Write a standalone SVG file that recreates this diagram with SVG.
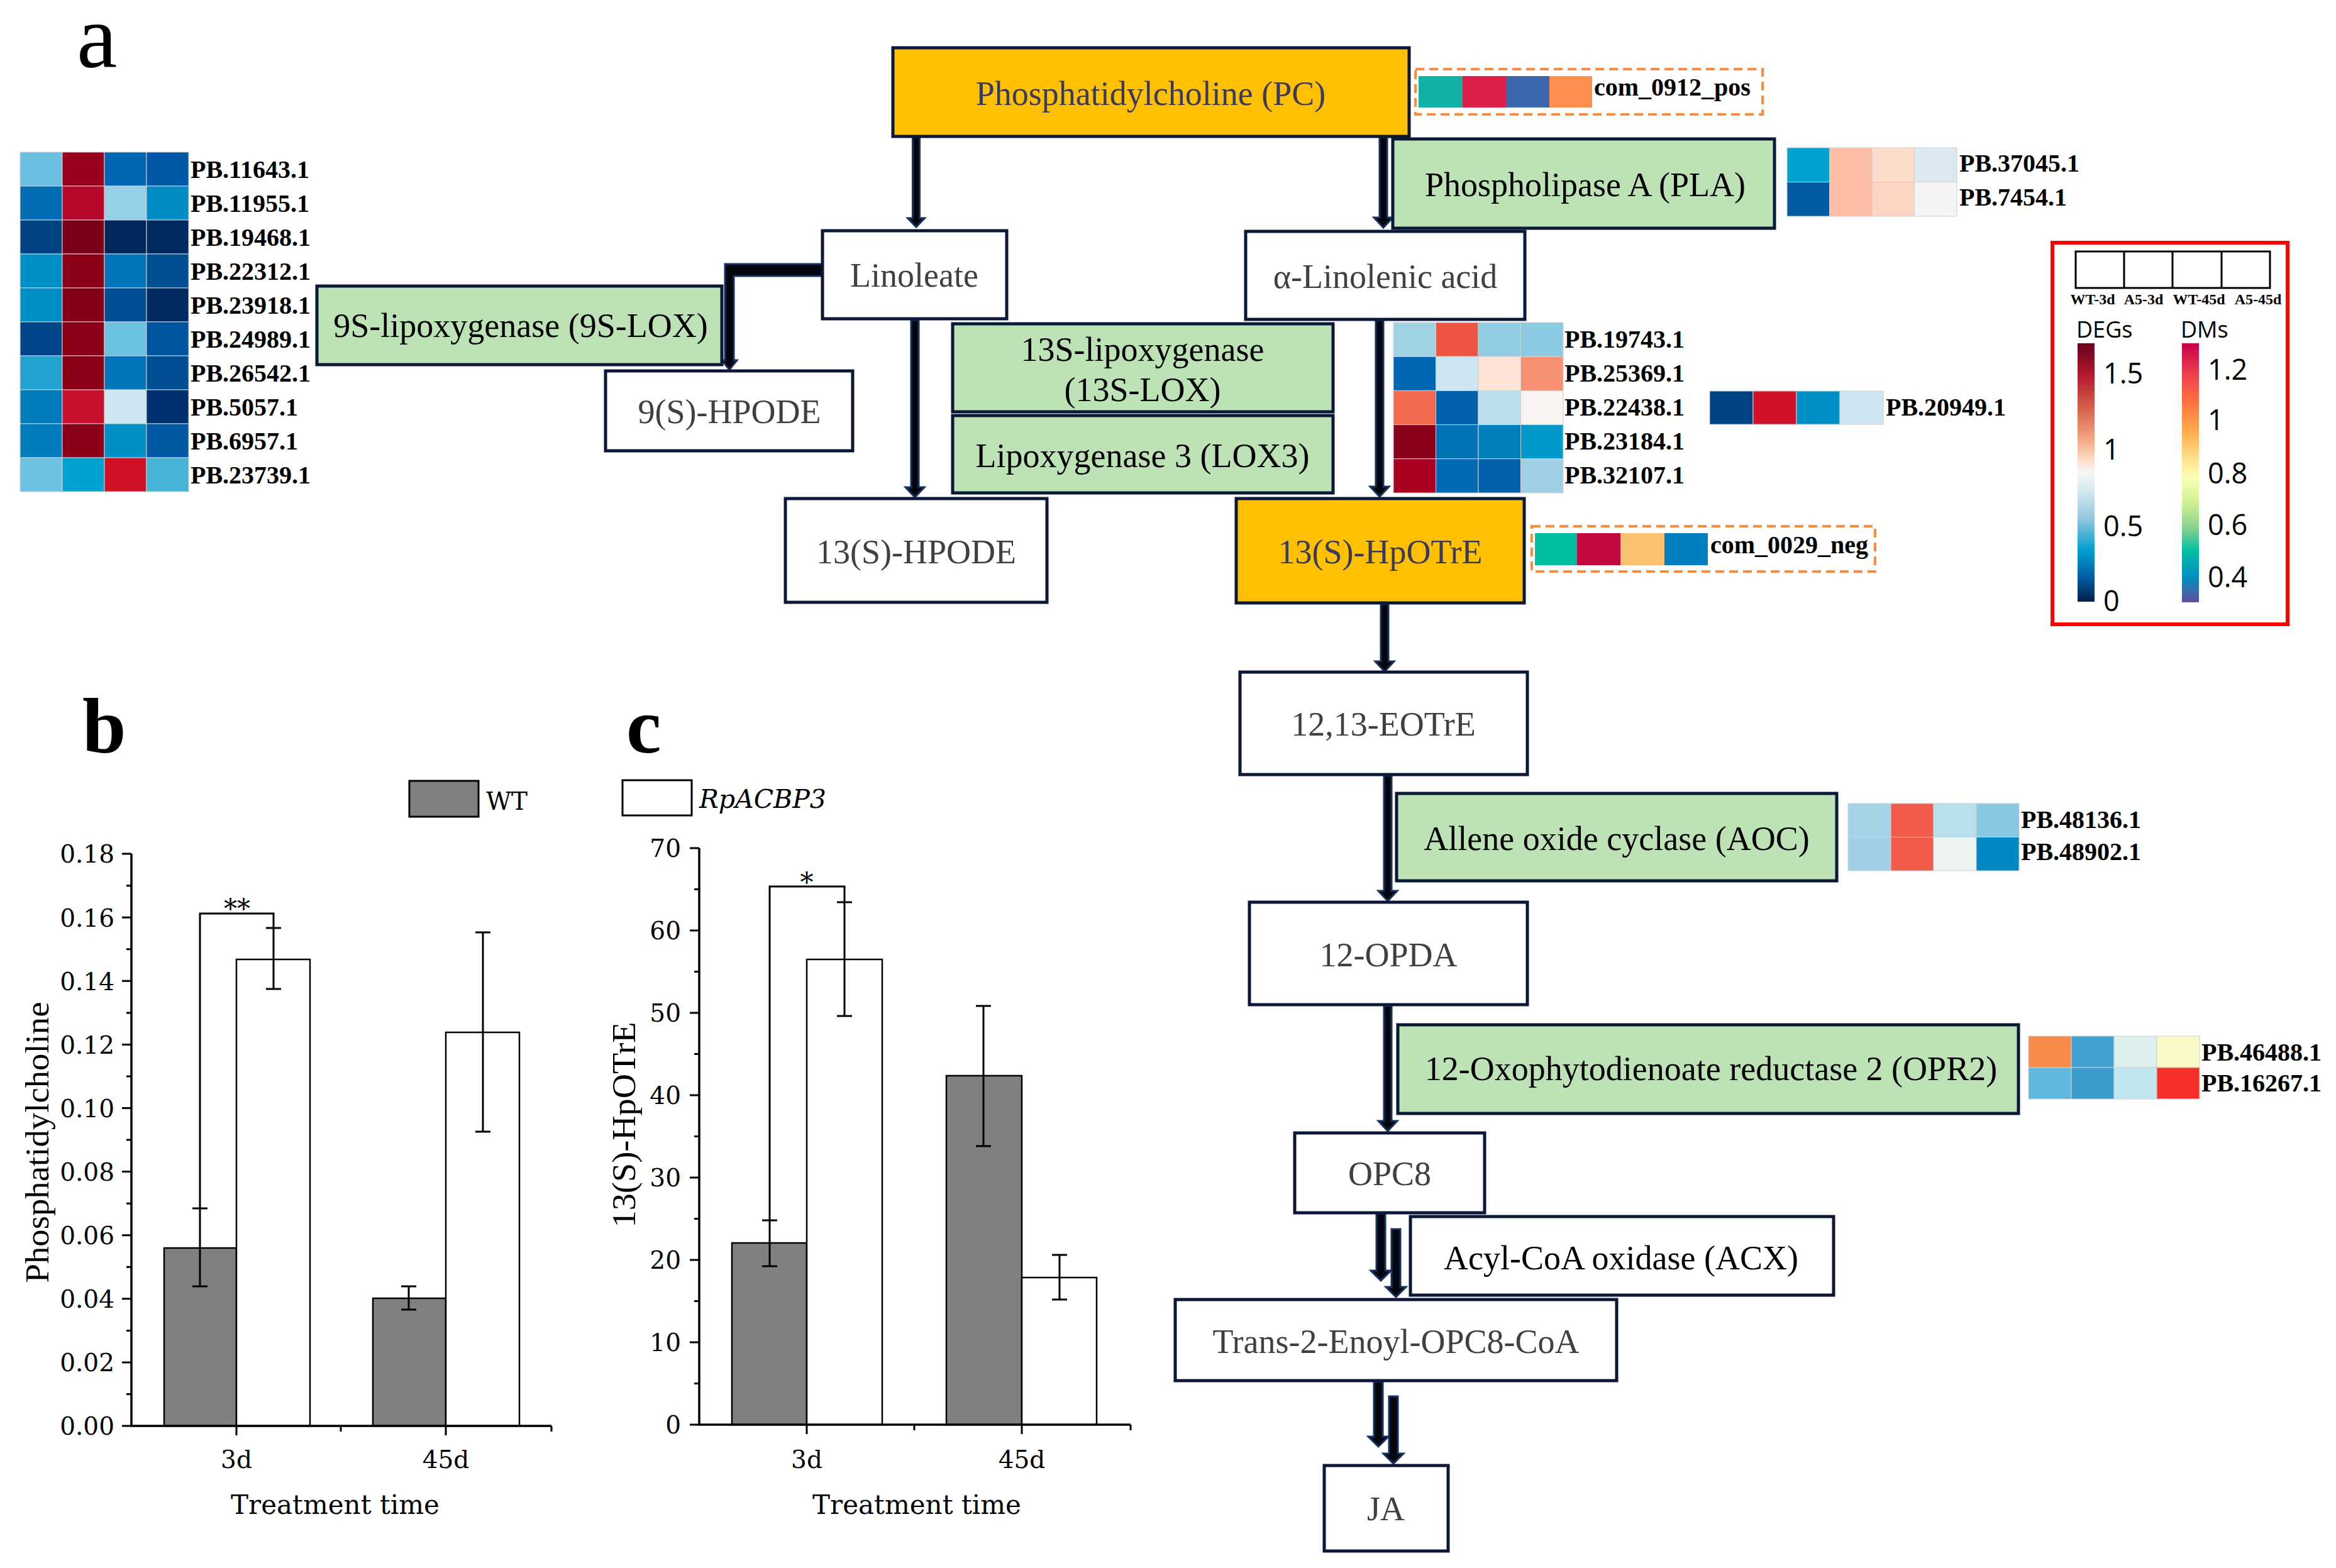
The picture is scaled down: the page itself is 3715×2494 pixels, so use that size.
<svg xmlns="http://www.w3.org/2000/svg" width="3715" height="2494" viewBox="0 0 3715 2494">
<style>
.nd{stroke:#0b1838;stroke-width:5}
.w{fill:#ffffff}
.y{fill:#ffc000}
.g{fill:#bde2b6}
.t{font-family:"Liberation Serif","Times New Roman",serif;font-size:54px;text-anchor:middle}
.tg{fill:#404040}
.ty{fill:#3a3a5c}
.tk{fill:#000}
.lb{font-family:"Liberation Serif","Times New Roman",serif;font-size:40px;font-weight:bold;fill:#000}
.hc rect{stroke:#d0d0d0;stroke-width:1}
.ba{fill:#03060c;stroke:#17305e;stroke-width:3;stroke-linejoin:miter}
.dash{fill:none;stroke:#ff8c3a;stroke-width:4;stroke-dasharray:14 8}
.ax{stroke:#000;stroke-width:3.5;fill:none}
.eb{stroke:#000;stroke-width:3;fill:none}
.bg{fill:#808080;stroke:#000;stroke-width:2.5}
.bw{fill:#ffffff;stroke:#000;stroke-width:2.5}
.cf{font-family:"DejaVu Serif",serif;font-size:39px;fill:#000}
.ct{font-family:"DejaVu Serif",serif;font-size:42px;fill:#000;text-anchor:middle}
.ls{font-family:"Open Sans","DejaVu Sans",sans-serif;fill:#000}
</style>
<defs>
<linearGradient id="gDEG" x1="0" y1="0" x2="0" y2="1">
<stop offset="0" stop-color="#67001f"/>
<stop offset="0.12" stop-color="#b2182b"/>
<stop offset="0.25" stop-color="#d6604d"/>
<stop offset="0.37" stop-color="#f4a582"/>
<stop offset="0.45" stop-color="#fddbc7"/>
<stop offset="0.5" stop-color="#f7f7f7"/>
<stop offset="0.58" stop-color="#d1e5f0"/>
<stop offset="0.68" stop-color="#92c5de"/>
<stop offset="0.8" stop-color="#00a0d0"/>
<stop offset="0.9" stop-color="#0060a8"/>
<stop offset="1" stop-color="#00204a"/>
</linearGradient>
<linearGradient id="gDM" x1="0" y1="0" x2="0" y2="1">
<stop offset="0" stop-color="#c80048"/>
<stop offset="0.12" stop-color="#f04050"/>
<stop offset="0.22" stop-color="#ff7040"/>
<stop offset="0.35" stop-color="#ffb050"/>
<stop offset="0.48" stop-color="#fff0a0"/>
<stop offset="0.52" stop-color="#f8ffb8"/>
<stop offset="0.62" stop-color="#d0f090"/>
<stop offset="0.72" stop-color="#80d090"/>
<stop offset="0.8" stop-color="#00c0a0"/>
<stop offset="0.9" stop-color="#0090c0"/>
<stop offset="1" stop-color="#6050a0"/>
</linearGradient>
</defs>
<rect width="3715" height="2494" fill="#ffffff"/>

<!-- panel letters -->
<text x="122" y="107" font-family="Liberation Serif, serif" font-size="145">a</text>
<text x="131" y="1197" font-family="Liberation Serif, serif" font-size="125" font-weight="bold">b</text>
<text x="996" y="1197" font-family="Liberation Serif, serif" font-size="125" font-weight="bold">c</text>

<!-- connectors (block arrows) -->
<g id="connectors">
<path class="ba" d="M1451.5,218 V347 H1443.5 L1457,361 L1470.5,347 H1462.5 V218 Z"/>
<path class="ba" d="M2194,218 V346 H2185 L2200,362 L2215,346 H2206 V218 Z"/>
<path class="ba" d="M1153,420 H1308 V439 H1167 V573 H1172 L1160,588 L1148,573 H1153 Z"/>
<path class="ba" d="M1449,509 V775 H1440 L1455,791 L1470,775 H1461 V509 Z"/>
<path class="ba" d="M2188,510 V774 H2179 L2194,790 L2209,774 H2200 V510 Z"/>
<path class="ba" d="M2196,961 V1052 H2187 L2202,1068 L2217,1052 H2208 V961 Z"/>
<path class="ba" d="M2201,1234 V1417 H2192 L2207,1433 L2222,1417 H2213 V1234 Z"/>
<path class="ba" d="M2201,1600 V1783 H2192 L2207,1799 L2222,1783 H2213 V1600 Z"/>
<path class="ba" d="M2189,1930 V2021 H2180 L2196,2037 L2212,2021 H2203 V1930 Z"/>
<path class="ba" d="M2213,1955 V2047 H2204 L2220,2063 L2236,2047 H2227 V1955 Z"/>
<path class="ba" d="M2185,2198 V2285 H2176 L2192,2301 L2208,2285 H2199 V2198 Z"/>
<path class="ba" d="M2209,2221 V2312 H2200 L2216,2328 L2232,2312 H2223 V2221 Z"/>
</g>

<!-- nodes -->
<g id="n-pc"><rect class="nd y" x="1420" y="76" width="821" height="141"/><text class="t ty" x="1830" y="167">Phosphatidylcholine (PC)</text></g>
<g id="n-pla"><rect class="nd g" x="2215" y="221" width="607" height="142"/><text class="t tk" x="2521" y="312">Phospholipase A (PLA)</text></g>
<g id="n-linoleate"><rect class="nd w" x="1308" y="367" width="293" height="140"/><text class="t tg" x="1454" y="456">Linoleate</text></g>
<g id="n-alin"><rect class="nd w" x="1981" y="368" width="444" height="140"/><text class="t tg" x="2203" y="458">α-Linolenic acid</text></g>
<g id="n-9slox"><rect class="nd g" x="504" y="455" width="644" height="125"/><text class="t tk" x="828" y="536">9S-lipoxygenase (9S-LOX)</text></g>
<g id="n-9hpode"><rect class="nd w" x="963" y="590" width="393" height="127"/><text class="t tg" x="1160" y="673">9(S)-HPODE</text></g>
<g id="n-13slox"><rect class="nd g" x="1515" y="515" width="605" height="140"/><text class="t tk" x="1817" y="574">13S-lipoxygenase</text><text class="t tk" x="1817" y="638">(13S-LOX)</text></g>
<g id="n-lox3"><rect class="nd g" x="1515" y="661" width="605" height="123"/><text class="t tk" x="1817" y="743">Lipoxygenase 3 (LOX3)</text></g>
<g id="n-13hpode"><rect class="nd w" x="1249" y="793" width="416" height="165"/><text class="t tg" x="1457" y="896">13(S)-HPODE</text></g>
<g id="n-hpotre"><rect class="nd y" x="1966" y="793" width="458" height="166"/><text class="t ty" x="2195" y="896">13(S)-HpOTrE</text></g>
<g id="n-eotre"><rect class="nd w" x="1972" y="1069" width="457" height="163"/><text class="t tg" x="2200" y="1170">12,13-EOTrE</text></g>
<g id="n-aoc"><rect class="nd g" x="2221" y="1262" width="700" height="139"/><text class="t tk" x="2571" y="1352">Allene oxide cyclase (AOC)</text></g>
<g id="n-opda"><rect class="nd w" x="1987" y="1435" width="442" height="163"/><text class="t tg" x="2208" y="1537">12-OPDA</text></g>
<g id="n-opr2"><rect class="nd g" x="2223" y="1630" width="987" height="141"/><text class="t tk" x="2721" y="1718">12-Oxophytodienoate reductase 2 (OPR2)</text></g>
<g id="n-opc8"><rect class="nd w" x="2059" y="1802" width="302" height="127"/><text class="t tg" x="2210" y="1885">OPC8</text></g>
<g id="n-acx"><rect class="nd w" x="2243" y="1935" width="673" height="125"/><text class="t tk" x="2578" y="2019">Acyl-CoA oxidase (ACX)</text></g>
<g id="n-trans"><rect class="nd w" x="1869" y="2067" width="702" height="129"/><text class="t tg" x="2220" y="2152">Trans-2-Enoyl-OPC8-CoA</text></g>
<g id="n-ja"><rect class="nd w" x="2106" y="2331" width="197" height="136"/><text class="t tg" x="2204" y="2418">JA</text></g>

<!-- heatmap: left (9S-LOX) -->
<g id="hm-9slox" class="hc">
<rect x="32" y="242" width="67" height="54" fill="#6bbfe0"/><rect x="99" y="242" width="67" height="54" fill="#990020"/><rect x="166" y="242" width="67" height="54" fill="#0067b5"/><rect x="233" y="242" width="67" height="54" fill="#0059a6"/>
<rect x="32" y="296" width="67" height="54" fill="#006db5"/><rect x="99" y="296" width="67" height="54" fill="#b5082a"/><rect x="166" y="296" width="67" height="54" fill="#95d0e6"/><rect x="233" y="296" width="67" height="54" fill="#008dc6"/>
<rect x="32" y="350" width="67" height="54" fill="#004484"/><rect x="99" y="350" width="67" height="54" fill="#7a0018"/><rect x="166" y="350" width="67" height="54" fill="#002a5f"/><rect x="233" y="350" width="67" height="54" fill="#002a60"/>
<rect x="32" y="404" width="67" height="54" fill="#0090c8"/><rect x="99" y="404" width="67" height="54" fill="#8a0019"/><rect x="166" y="404" width="67" height="54" fill="#0075b9"/><rect x="233" y="404" width="67" height="54" fill="#004d92"/>
<rect x="32" y="458" width="67" height="54" fill="#0090c8"/><rect x="99" y="458" width="67" height="54" fill="#820018"/><rect x="166" y="458" width="67" height="54" fill="#004f94"/><rect x="233" y="458" width="67" height="54" fill="#002a60"/>
<rect x="32" y="512" width="67" height="54" fill="#004489"/><rect x="99" y="512" width="67" height="54" fill="#8a0019"/><rect x="166" y="512" width="67" height="54" fill="#6bc1e0"/><rect x="233" y="512" width="67" height="54" fill="#00559f"/>
<rect x="32" y="566" width="67" height="54" fill="#20a3d0"/><rect x="99" y="566" width="67" height="54" fill="#8a0019"/><rect x="166" y="566" width="67" height="54" fill="#0075b9"/><rect x="233" y="566" width="67" height="54" fill="#004f94"/>
<rect x="32" y="620" width="67" height="54" fill="#007cbc"/><rect x="99" y="620" width="67" height="54" fill="#c8102a"/><rect x="166" y="620" width="67" height="54" fill="#cde6f1"/><rect x="233" y="620" width="67" height="54" fill="#003070"/>
<rect x="32" y="674" width="67" height="54" fill="#007dbd"/><rect x="99" y="674" width="67" height="54" fill="#8a0019"/><rect x="166" y="674" width="67" height="54" fill="#0090c8"/><rect x="233" y="674" width="67" height="54" fill="#0059a2"/>
<rect x="32" y="728" width="67" height="54" fill="#6dc1e0"/><rect x="99" y="728" width="67" height="54" fill="#00a3cf"/><rect x="166" y="728" width="67" height="54" fill="#cf1128"/><rect x="233" y="728" width="67" height="54" fill="#45b4d6"/>
</g>
<g class="lb">
<text x="303" y="283">PB.11643.1</text>
<text x="303" y="337">PB.11955.1</text>
<text x="303" y="391">PB.19468.1</text>
<text x="303" y="445">PB.22312.1</text>
<text x="303" y="499">PB.23918.1</text>
<text x="303" y="553">PB.24989.1</text>
<text x="303" y="607">PB.26542.1</text>
<text x="303" y="661">PB.5057.1</text>
<text x="303" y="715">PB.6957.1</text>
<text x="303" y="769">PB.23739.1</text>
</g>

<!-- heatmap: PC metabolite -->
<g id="hm-pc">
<rect class="dash" x="2251" y="110" width="552" height="72"/>
<rect x="2256" y="121" width="70" height="50" fill="#13b0a5"/><rect x="2326" y="121" width="69" height="50" fill="#dc1e48"/><rect x="2395" y="121" width="69" height="50" fill="#3d68b0"/><rect x="2464" y="121" width="68" height="50" fill="#ff8f4e"/>
<text class="lb" x="2535" y="152">com_0912_pos</text>
</g>

<!-- heatmap: PLA -->
<g id="hm-pla" class="hc">
<rect x="2842" y="235" width="67.5" height="54.5" fill="#00a2d0"/><rect x="2909.5" y="235" width="67.5" height="54.5" fill="#fcbfa6"/><rect x="2977" y="235" width="67.5" height="54.5" fill="#fddccb"/><rect x="3044.5" y="235" width="67.5" height="54.5" fill="#dde9f0"/>
<rect x="2842" y="289.5" width="67.5" height="54.5" fill="#005ba3"/><rect x="2909.5" y="289.5" width="67.5" height="54.5" fill="#fcbfa6"/><rect x="2977" y="289.5" width="67.5" height="54.5" fill="#fdd5c2"/><rect x="3044.5" y="289.5" width="67.5" height="54.5" fill="#f4f4f4"/>
</g>
<text class="lb" x="3116" y="273">PB.37045.1</text>
<text class="lb" x="3116" y="327">PB.7454.1</text>

<!-- heatmap: 13S-LOX / LOX3 -->
<g id="hm-lox" class="hc">
<rect x="2216" y="513" width="67.5" height="54.2" fill="#a0d2e6"/><rect x="2283.5" y="513" width="67.5" height="54.2" fill="#ee5442"/><rect x="2351" y="513" width="67.5" height="54.2" fill="#92cde3"/><rect x="2418.5" y="513" width="67.5" height="54.2" fill="#8ccae3"/>
<rect x="2216" y="567.2" width="67.5" height="54.2" fill="#0067b3"/><rect x="2283.5" y="567.2" width="67.5" height="54.2" fill="#cde6f1"/><rect x="2351" y="567.2" width="67.5" height="54.2" fill="#fde4d7"/><rect x="2418.5" y="567.2" width="67.5" height="54.2" fill="#f78f72"/>
<rect x="2216" y="621.4" width="67.5" height="54.2" fill="#f26a50"/><rect x="2283.5" y="621.4" width="67.5" height="54.2" fill="#0062ae"/><rect x="2351" y="621.4" width="67.5" height="54.2" fill="#bbdfec"/><rect x="2418.5" y="621.4" width="67.5" height="54.2" fill="#f7f4f2"/>
<rect x="2216" y="675.6" width="67.5" height="54.2" fill="#8a0019"/><rect x="2283.5" y="675.6" width="67.5" height="54.2" fill="#0073b7"/><rect x="2351" y="675.6" width="67.5" height="54.2" fill="#007fbc"/><rect x="2418.5" y="675.6" width="67.5" height="54.2" fill="#0099cc"/>
<rect x="2216" y="729.8" width="67.5" height="54.2" fill="#a8001e"/><rect x="2283.5" y="729.8" width="67.5" height="54.2" fill="#006ab4"/><rect x="2351" y="729.8" width="67.5" height="54.2" fill="#0060ac"/><rect x="2418.5" y="729.8" width="67.5" height="54.2" fill="#a0d0e6"/>
</g>
<g class="lb">
<text x="2488" y="553">PB.19743.1</text>
<text x="2488" y="607">PB.25369.1</text>
<text x="2488" y="661">PB.22438.1</text>
<text x="2488" y="715">PB.23184.1</text>
<text x="2488" y="769">PB.32107.1</text>
</g>
<g id="hm-20949" class="hc">
<rect x="2719" y="622" width="69" height="53" fill="#004484"/><rect x="2788" y="622" width="69" height="53" fill="#cf1128"/><rect x="2857" y="622" width="69" height="53" fill="#0090c8"/><rect x="2926" y="622" width="69" height="53" fill="#cde6f1"/>
</g>
<text class="lb" x="2999" y="661">PB.20949.1</text>

<!-- heatmap: HpOTrE metabolite -->
<g id="hm-hpotre">
<rect class="dash" x="2436" y="837" width="546" height="72"/>
<rect x="2441" y="848" width="67" height="51" fill="#00bfa0"/><rect x="2508" y="848" width="69" height="51" fill="#c40840"/><rect x="2577" y="848" width="70" height="51" fill="#fdc070"/><rect x="2647" y="848" width="69" height="51" fill="#0080c0"/>
<text class="lb" x="2720" y="880">com_0029_neg</text>
</g>

<!-- heatmap: AOC -->
<g id="hm-aoc" class="hc">
<rect x="2939" y="1278" width="68" height="53.5" fill="#a3d4e7"/><rect x="3007" y="1278" width="68" height="53.5" fill="#f25a48"/><rect x="3075" y="1278" width="68" height="53.5" fill="#b8dfec"/><rect x="3143" y="1278" width="68" height="53.5" fill="#88c8e2"/>
<rect x="2939" y="1331.5" width="68" height="53.5" fill="#a0d0e6"/><rect x="3007" y="1331.5" width="68" height="53.5" fill="#f25a48"/><rect x="3075" y="1331.5" width="68" height="53.5" fill="#eef3f4"/><rect x="3143" y="1331.5" width="68" height="53.5" fill="#0088c4"/>
</g>
<text class="lb" x="3214" y="1317">PB.48136.1</text>
<text class="lb" x="3214" y="1368">PB.48902.1</text>

<!-- heatmap: OPR2 -->
<g id="hm-opr2" class="hc">
<rect x="3226" y="1648" width="68" height="50" fill="#f98b4a"/><rect x="3294" y="1648" width="68" height="50" fill="#40a0d0"/><rect x="3362" y="1648" width="68" height="50" fill="#ddf0ee"/><rect x="3430" y="1648" width="68" height="50" fill="#fafac8"/>
<rect x="3226" y="1698" width="68" height="50" fill="#60b8dc"/><rect x="3294" y="1698" width="68" height="50" fill="#3a9ccc"/><rect x="3362" y="1698" width="68" height="50" fill="#c0e6f0"/><rect x="3430" y="1698" width="68" height="50" fill="#f8302a"/>
</g>
<text class="lb" x="3501" y="1687">PB.46488.1</text>
<text class="lb" x="3501" y="1736">PB.16267.1</text>

<!-- legend -->
<g id="legend">
<rect x="3264" y="386" width="374" height="607" fill="none" stroke="#ff0000" stroke-width="6"/>
<rect x="3301" y="400" width="309" height="58" fill="#fff" stroke="#000" stroke-width="3"/>
<line x1="3378" y1="400" x2="3378" y2="458" stroke="#000" stroke-width="3"/>
<line x1="3455" y1="400" x2="3455" y2="458" stroke="#000" stroke-width="3"/>
<line x1="3533" y1="400" x2="3533" y2="458" stroke="#000" stroke-width="3"/>
<g font-family="Liberation Serif, serif" font-size="24" font-weight="bold" text-anchor="middle">
<text x="3328" y="484">WT-3d</text><text x="3409" y="484">A5-3d</text><text x="3497" y="484">WT-45d</text><text x="3591" y="484">A5-45d</text>
</g>
<text class="ls" x="3302" y="537" font-size="36">DEGs</text>
<text class="ls" x="3468" y="537" font-size="36">DMs</text>
<rect x="3304" y="546" width="27" height="411" fill="url(#gDEG)"/>
<rect x="3470" y="546" width="27" height="412" fill="url(#gDM)"/>
<g class="ls" font-size="45">
<text x="3345" y="610">1.5</text><text x="3345" y="731">1</text><text x="3345" y="853">0.5</text><text x="3345" y="972">0</text>
<text x="3511" y="604">1.2</text><text x="3511" y="684">1</text><text x="3511" y="769">0.8</text><text x="3511" y="851">0.6</text><text x="3511" y="934">0.4</text>
</g>
</g>

<!-- chart b -->
<g id="chart-b">
<rect x="651" y="1242" width="110" height="57" fill="#808080" stroke="#000" stroke-width="3"/>
<text class="cf" x="773" y="1288" font-size="44">WT</text>
<rect class="bg" x="261" y="1985" width="115" height="283"/>
<rect class="bw" x="376" y="1526" width="117" height="742"/>
<rect class="bg" x="593" y="2065" width="116" height="203"/>
<rect class="bw" x="709" y="1642" width="117" height="626"/>
<path class="eb" d="M318,1922 V2046 M306,1922 H330 M306,2046 H330"/>
<path class="eb" d="M435,1476 V1573 M423,1476 H447 M423,1573 H447"/>
<path class="eb" d="M650,2046 V2083 M638,2046 H662 M638,2083 H662"/>
<path class="eb" d="M768,1483 V1800 M756,1483 H780 M756,1800 H780"/>
<path class="eb" d="M318,1922 V1453 H435 V1476"/>
<text class="ct" x="377" y="1460">**</text>
<path class="ax" d="M209,1358 V2268 H877"/>
<path class="eb" d="M194,2268H209 M194,2166.9H209 M194,2065.8H209 M194,1964.7H209 M194,1863.6H209 M194,1762.5H209 M194,1661.4H209 M194,1560.3H209 M194,1459.2H209 M194,1358.1H209 M201,2217.5H209 M201,2116.4H209 M201,2015.3H209 M201,1914.2H209 M201,1813H209 M201,1712H209 M201,1610.9H209 M201,1509.8H209 M201,1408.7H209 M376,2268V2283 M709,2268V2283 M542,2268V2277 M877,2268V2277"/>
<g class="cf" text-anchor="end">
<text x="182" y="2282">0.00</text><text x="182" y="2181">0.02</text><text x="182" y="2080">0.04</text><text x="182" y="1979">0.06</text><text x="182" y="1878">0.08</text><text x="182" y="1777">0.10</text><text x="182" y="1676">0.12</text><text x="182" y="1575">0.14</text><text x="182" y="1474">0.16</text><text x="182" y="1372">0.18</text>
</g>
<g class="cf" text-anchor="middle"><text x="376" y="2335">3d</text><text x="709" y="2335">45d</text></g>
<text class="ct" x="533" y="2408">Treatment time</text>
<text transform="translate(77,1817) rotate(-90)" font-family="Liberation Serif, serif" font-size="52" text-anchor="middle" textLength="447" lengthAdjust="spacingAndGlyphs">Phosphatidylcholine</text>
</g>

<!-- chart c -->
<g id="chart-c">
<rect x="990" y="1241" width="110" height="56" fill="#fff" stroke="#000" stroke-width="3"/>
<text x="1112" y="1285" font-family="DejaVu Serif, serif" font-size="41" font-style="italic">RpACBP3</text>
<rect class="bg" x="1164" y="1977" width="119" height="289"/>
<rect class="bw" x="1283" y="1526" width="120" height="740"/>
<rect class="bg" x="1505" y="1711" width="120" height="555"/>
<rect class="bw" x="1625" y="2032" width="119" height="234"/>
<path class="eb" d="M1224,1941 V2014 M1212,1941 H1236 M1212,2014 H1236"/>
<path class="eb" d="M1343,1435 V1616 M1331,1435 H1355 M1331,1616 H1355"/>
<path class="eb" d="M1564,1600 V1823 M1552,1600 H1576 M1552,1823 H1576"/>
<path class="eb" d="M1685,1996 V2067 M1673,1996 H1697 M1673,2067 H1697"/>
<path class="eb" d="M1224,1941 V1410 H1343 V1435"/>
<text class="ct" x="1283" y="1418">*</text>
<path class="ax" d="M1112,1349 V2266 H1798"/>
<path class="eb" d="M1097,2266H1112 M1097,2135H1112 M1097,2004H1112 M1097,1873H1112 M1097,1742H1112 M1097,1611H1112 M1097,1480H1112 M1097,1349H1112 M1104,2200.5H1112 M1104,2069.5H1112 M1104,1938.5H1112 M1104,1807.5H1112 M1104,1676.5H1112 M1104,1545.5H1112 M1104,1414.5H1112 M1283,2266V2281 M1625,2266V2281 M1454,2266V2275 M1798,2266V2275"/>
<g class="cf" text-anchor="end">
<text x="1083" y="2280">0</text><text x="1083" y="2149">10</text><text x="1083" y="2018">20</text><text x="1083" y="1887">30</text><text x="1083" y="1756">40</text><text x="1083" y="1625">50</text><text x="1083" y="1494">60</text><text x="1083" y="1363">70</text>
</g>
<g class="cf" text-anchor="middle"><text x="1283" y="2335">3d</text><text x="1625" y="2335">45d</text></g>
<text class="ct" x="1458" y="2408">Treatment time</text>
<text transform="translate(1010,1789) rotate(-90)" font-family="Liberation Serif, serif" font-size="52" text-anchor="middle" textLength="327" lengthAdjust="spacingAndGlyphs">13(S)-HpOTrE</text>
</g>
</svg>
